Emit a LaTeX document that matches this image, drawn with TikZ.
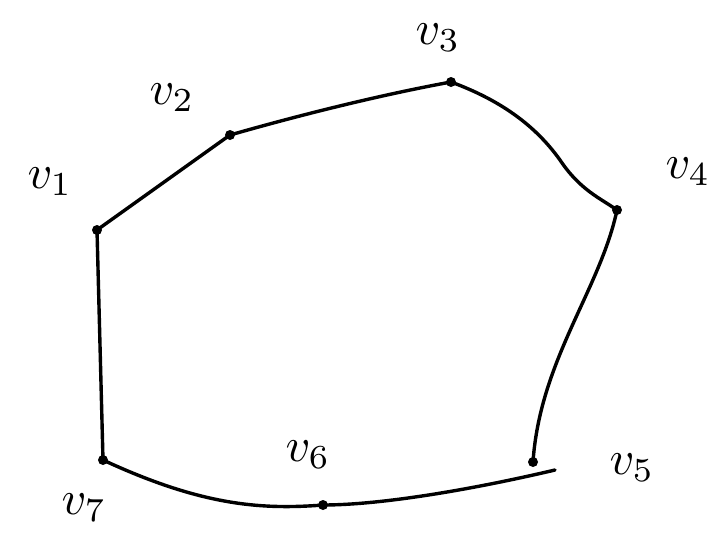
\documentclass[tikz,border=0pt]{standalone}
\newcommand{\vlab}[1]{\scalebox{4.8}{$v_{#1}$}}
\begin{document}
\begin{tikzpicture}[x=1pt,y=-1pt,
  vtx/.style={circle,fill=black,inner sep=0pt,minimum size=10pt},
  lbl/.style={inner sep=0pt},
  edge/.style={line width=3.4pt,line cap=round,line join=round}]
\useasboundingbox (0,0) rectangle (726,542);
\node[vtx] (v1) at (97,230) {};
\node[vtx] (v2) at (230,135) {};
\node[vtx] (v3) at (451,82) {};
\node[vtx] (v4) at (617,210) {};
\node[vtx] (v5) at (533,462) {};
\node[vtx] (v6) at (323,505) {};
\node[vtx] (v7) at (103,460) {};
\node[lbl] (l1) at (50,182) {\vlab{1}};
\node[lbl] (l2) at (172,98) {\vlab{2}};
\node[lbl] (l3) at (438,38) {\vlab{3}};
\node[lbl] (l4) at (688,172) {\vlab{4}};
\node[lbl] (l5) at (632,468) {\vlab{5}};
\node[lbl] (l6) at (308,455) {\vlab{6}};
\node[lbl] (l7) at (84,508) {\vlab{7}};
\draw[edge] (v1.center) -- (v2.center);
\draw[edge] (v2.center) .. controls (300,115) and (380,95) .. (v3.center);
\draw[edge] (v3.center) .. controls (500,100) and (535,125) .. (560,160) .. controls (580,190) and (600,198) .. (v4.center);
\draw[edge] (v4.center) .. controls (600,290) and (540,360) .. (v5.center);
\draw[edge] (555,470) .. controls (470,490) and (380,505) .. (v6.center);
\draw[edge] (v6.center) .. controls (260,510) and (200,505) .. (v7.center);
\draw[edge] (v7.center) -- (v1.center);
\end{tikzpicture}
\end{document}
